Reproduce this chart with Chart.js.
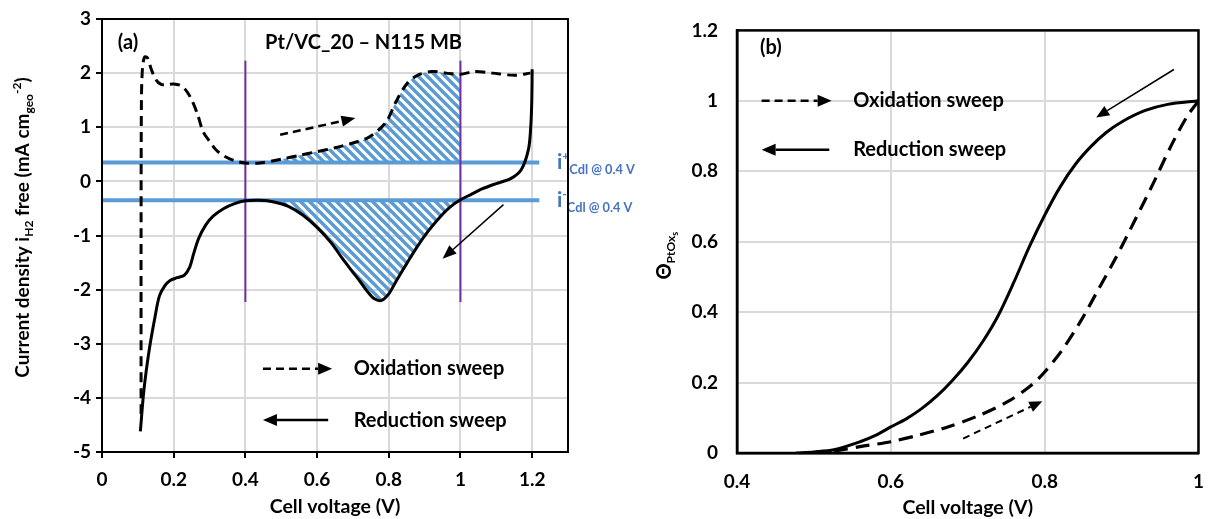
<!DOCTYPE html>
<html><head><meta charset="utf-8">
<script src="https://cdn.jsdelivr.net/npm/chart.js@4.4.0/dist/chart.umd.min.js"></script>
<style>
html,body{margin:0;padding:0;background:#fff;}
#wrap{position:relative;width:1221px;height:519px;overflow:hidden;background:#fff;}
#c1{position:absolute;left:0;top:0;}
#c2{position:absolute;left:648px;top:0;}
</style></head><body>
<div id="wrap"><canvas id="c1" width="648" height="519"></canvas><canvas id="c2" width="573" height="519"></canvas></div>
<script>
// ---------- Panel (a) data ----------
const oxVoltageA = [0.109,0.109,0.110,0.113,0.119,0.127,0.137,0.150,0.165,0.180,0.200,0.220,0.237,0.252,0.266,0.282,0.300,0.320,0.343,0.370,0.400,0.440,0.500,0.550,0.600,0.650,0.700,0.740,0.770,0.795,0.820,0.850,0.880,0.920,0.960,1.000,1.040,1.090,1.150,1.195];
const oxCurrentA = [-4.30,-1.00,1.50,2.10,2.30,2.28,2.08,1.88,1.79,1.79,1.80,1.77,1.66,1.48,1.25,0.92,0.74,0.57,0.46,0.38,0.34,0.34,0.41,0.48,0.55,0.62,0.71,0.80,0.94,1.12,1.47,1.80,1.96,2.03,2.00,1.98,2.03,2.00,1.96,2.00];
const redVoltageA = [1.200,1.199,1.196,1.190,1.170,1.140,1.100,1.060,1.030,1.000,0.970,0.940,0.910,0.880,0.850,0.820,0.800,0.780,0.760,0.740,0.720,0.700,0.670,0.640,0.600,0.560,0.520,0.480,0.440,0.400,0.370,0.340,0.310,0.290,0.270,0.255,0.245,0.230,0.210,0.190,0.175,0.160,0.148,0.132,0.117,0.107];
const redCurrentA = [2.07,1.50,1.00,0.60,0.22,0.05,-0.04,-0.14,-0.24,-0.34,-0.48,-0.68,-0.92,-1.20,-1.52,-1.85,-2.08,-2.20,-2.17,-2.03,-1.85,-1.68,-1.42,-1.14,-0.85,-0.62,-0.46,-0.38,-0.35,-0.36,-0.41,-0.50,-0.64,-0.80,-1.05,-1.35,-1.58,-1.73,-1.78,-1.83,-1.93,-2.12,-2.50,-3.10,-3.85,-4.62];
const cdlCurrentsA = [0.35, -0.35];        // i+Cdl and i-Cdl @ 0.4 V
const cdlSpanA = [0, 1.22];
const integrationLimitsA = [0.4, 1.0];
const integrationMarkerSpanA = [-2.23, 2.23];
const xTicksA = [0, 0.2, 0.4, 0.6, 0.8, 1, 1.2];
const yTicksA = [3, 2, 1, 0, -1, -2, -3, -4, -5];

// ---------- Panel (b) data ----------
const redVoltageB = [1.000,0.960,0.930,0.900,0.880,0.860,0.840,0.820,0.800,0.780,0.760,0.740,0.720,0.700,0.680,0.660,0.640,0.620,0.600,0.580,0.560,0.526,0.500,0.477];
const redCoverageB = [1.000,0.990,0.972,0.940,0.910,0.870,0.820,0.755,0.675,0.585,0.485,0.392,0.318,0.257,0.206,0.162,0.126,0.097,0.074,0.050,0.032,0.009,0.003,0.000];
const oxVoltageB = [0.526,0.560,0.600,0.635,0.674,0.714,0.753,0.783,0.800,0.822,0.847,0.870,0.892,0.916,0.941,0.965,0.985,1.000];
const oxCoverageB = [0.005,0.018,0.032,0.050,0.074,0.106,0.147,0.193,0.230,0.290,0.375,0.465,0.552,0.655,0.765,0.875,0.955,1.000];
const xTicksB = [0.4, 0.6, 0.8, 1];
const yTicksB = [0, 0.2, 0.4, 0.6, 0.8, 1, 1.2];

// ---------- annotations (data units) ----------
const arrowsA = [
  {from:[0.497,0.86], to:[0.707,1.17], dashed:true},
  {from:[1.12,-0.43], to:[0.95,-1.43], dashed:false},
  {from:[0.449,-3.46], to:[0.642,-3.46], dashed:true, legend:true},
  {from:[0.631,-4.41], to:[0.449,-4.41], dashed:false, legend:true}
];
const textsA = [
  {x:0.044, y:2.56, text:'(a)'},
  {x:0.455, y:2.56, text:'Pt/VC_20 – N115 MB'},
  {x:0.702, y:-3.46, text:'Oxidation sweep', legend:true},
  {x:0.702, y:-4.41, text:'Reduction sweep', legend:true}
];
const arrowsB = [
  {from:[0.694,0.041], to:[0.797,0.147], dashed:true},
  {from:[0.968,1.089], to:[0.867,0.953], dashed:false},
  {from:[0.432,1.0], to:[0.523,1.0], dashed:true, legend:true},
  {from:[0.520,0.861], to:[0.432,0.861], dashed:false, legend:true}
];
const textsB = [
  {x:0.43, y:1.152, text:'(b)'},
  {x:0.551, y:1.0, text:'Oxidation sweep', legend:true},
  {x:0.551, y:0.861, text:'Reduction sweep', legend:true}
];

const FONT = 'Lato';
Chart.defaults.font.family = FONT;
Chart.defaults.font.weight = 'bold';
Chart.defaults.color = '#000';

const pts = (xs, ys) => xs.map((x, i) => ({x, y: ys[i]}));
const within = (p, lim) => p.x >= lim[0] - 1e-9 && p.x <= lim[1] + 1e-9;

function hatchPattern() {
  const s = 9, c = document.createElement('canvas');
  c.width = s; c.height = s;
  const g = c.getContext('2d');
  g.strokeStyle = '#5B9BD5'; g.lineWidth = 3.4; g.lineCap = 'square';
  for (let k = -1; k <= 1; k++) { g.beginPath(); g.moveTo(k*s - 1, -1); g.lineTo(k*s + s + 1, s + 1); g.stroke(); }
  return g.createPattern(c, 'repeat');
}

function drawArrow(ctx, x1, y1, x2, y2, o) {
  const a = Math.atan2(y2 - y1, x2 - x1);
  const bx = x2 - o.head*Math.cos(a), by = y2 - o.head*Math.sin(a);
  ctx.save();
  ctx.strokeStyle = '#000'; ctx.fillStyle = '#000'; ctx.lineWidth = o.width;
  ctx.setLineDash(o.dash || []);
  ctx.beginPath(); ctx.moveTo(x1, y1); ctx.lineTo(bx, by); ctx.stroke();
  ctx.setLineDash([]);
  const hw = o.headW/2;
  ctx.beginPath(); ctx.moveTo(x2, y2);
  ctx.lineTo(bx + hw*Math.sin(a), by - hw*Math.cos(a));
  ctx.lineTo(bx - hw*Math.sin(a), by + hw*Math.cos(a));
  ctx.closePath(); ctx.fill();
  ctx.restore();
}

function richText(ctx, x, y, parts, rot, align) {
  ctx.save(); ctx.translate(x, y); ctx.rotate(rot || 0);
  let total = 0;
  parts.forEach(p => { ctx.font = `bold ${p.size}px ${FONT}`; p.w = ctx.measureText(p.t).width; total += p.w; });
  let cx = align === 'left' ? 0 : -total/2;
  ctx.textAlign = 'left'; ctx.textBaseline = 'alphabetic';
  parts.forEach(p => { ctx.font = `bold ${p.size}px ${FONT}`; ctx.fillStyle = p.color || '#000'; ctx.fillText(p.t, cx, p.dy || 0); cx += p.w; });
  ctx.restore();
}

function boxPlugin(width) {
  return {
    id: 'box',
    afterDraw(chart) {
      const {ctx, chartArea: a} = chart;
      ctx.save(); ctx.strokeStyle = '#000'; ctx.lineWidth = width;
      ctx.strokeRect(a.left, a.top, a.right - a.left, a.bottom - a.top);
      ctx.restore();
    }
  };
}

function annotationPlugin(arrows, texts, cfg) {
  return {
    id: 'annot',
    afterDatasetsDraw(chart) {
      const {ctx} = chart, xs = chart.scales.x, ys = chart.scales.y;
      arrows.forEach(ar => {
        const x1 = xs.getPixelForValue(ar.from[0]), y1 = ys.getPixelForValue(ar.from[1]);
        const x2 = xs.getPixelForValue(ar.to[0]), y2 = ys.getPixelForValue(ar.to[1]);
        const st = ar.legend ? cfg.legendArrow : cfg.arrow;
        drawArrow(ctx, x1, y1, x2, y2, {width: ar.dashed ? st.dashW : st.solidW, dash: ar.dashed ? st.dash : null, head: st.head, headW: st.headW});
      });
      ctx.save();
      ctx.fillStyle = '#000'; ctx.textAlign = 'left'; ctx.textBaseline = 'middle';
      texts.forEach(t => {
        ctx.font = `bold ${t.legend ? cfg.legendFont : cfg.labelFont}px ${FONT}`;
        ctx.fillText(t.text, xs.getPixelForValue(t.x), ys.getPixelForValue(t.y));
      });
      ctx.restore();
      if (cfg.extra) cfg.extra(chart);
    }
  };
}

const tickFont = 19, titleFont = 19.5;

// ---------- Chart (a) ----------
const hatch = hatchPattern();
const oxPtsA = pts(oxVoltageA, oxCurrentA), redPtsA = pts(redVoltageA, redCurrentA);
const lineDs = (data, color, width, extra) => Object.assign({data, borderColor: color, borderWidth: width, pointRadius: 0, fill: false, tension: 0}, extra || {});

new Chart(document.getElementById('c1'), {
  type: 'line',
  data: {datasets: [
    lineDs(redPtsA, '#000', 3, {tension: 0.3, label: 'Reduction sweep'}),
    lineDs(oxPtsA, '#000', 3, {tension: 0.3, borderDash: [10, 6], label: 'Oxidation sweep'}),
    lineDs(integrationMarkerSpanA.map(y => ({x: integrationLimitsA[0], y})), '#7030A0', 2),
    lineDs(integrationMarkerSpanA.map(y => ({x: integrationLimitsA[1], y})), '#7030A0', 2),
    lineDs(cdlSpanA.map(x => ({x, y: cdlCurrentsA[0]})), '#5B9BD5', 4),
    lineDs(cdlSpanA.map(x => ({x, y: cdlCurrentsA[1]})), '#5B9BD5', 4),
    lineDs(oxPtsA.filter(p => within(p, integrationLimitsA)), 'rgba(0,0,0,0)', 0, {tension: 0.3, fill: {value: cdlCurrentsA[0]}, backgroundColor: hatch}),
    lineDs(redPtsA.filter(p => within(p, integrationLimitsA)), 'rgba(0,0,0,0)', 0, {tension: 0.3, fill: {value: cdlCurrentsA[1]}, backgroundColor: hatch})
  ]},
  options: {
    responsive: false, animation: false, devicePixelRatio: 1,
    layout: {padding: {top: 19, right: 80, bottom: 0, left: 0}},
    plugins: {legend: {display: false}, tooltip: {enabled: false}},
    scales: {
      x: {type: 'linear', min: 0, max: 1.3,
        afterBuildTicks: s => { s.ticks = xTicksA.map(v => ({value: v})); },
        afterFit: s => { s.height = 67; },
        grid: {color: '#d9d9d9', lineWidth: 2, tickColor: '#000', tickLength: 6, tickWidth: 2},
        border: {color: '#000', width: 2},
        ticks: {font: {size: tickFont}, padding: 10, callback: v => String(v), maxRotation: 0, autoSkip: false},
        title: {display: true, text: 'Cell voltage (V)', font: {size: titleFont}, padding: {top: 0, bottom: 1}}
      },
      y: {type: 'linear', min: -5, max: 3,
        afterBuildTicks: s => { s.ticks = yTicksA.map(v => ({value: v})); },
        afterFit: s => { s.width = 102; },
        grid: {color: '#d9d9d9', lineWidth: 2, tickColor: '#000', tickLength: 6, tickWidth: 2},
        border: {color: '#000', width: 2},
        ticks: {font: {size: tickFont}, padding: 5, callback: v => String(v), autoSkip: false}
      }
    }
  },
  plugins: [boxPlugin(2), annotationPlugin(arrowsA, textsA, {
    arrow: {dashW: 2.5, solidW: 1.5, dash: [8, 5], head: 14, headW: 11},
    legendArrow: {dashW: 2.5, solidW: 2.5, dash: [8, 5], head: 14, headW: 12},
    labelFont: 20, legendFont: 20,
    extra(chart) {
      const {ctx} = chart, ys = chart.scales.y;
      richText(ctx, 22 + 7, (chart.chartArea.top + chart.chartArea.bottom)/2 - 8, [
        {t: 'Current density i', size: 19},
        {t: 'H2', size: 12, dy: 4},
        {t: ' free (mA cm', size: 19},
        {t: 'geo', size: 12, dy: 4},
        {t: '-2', size: 12, dy: -8},
        {t: ')', size: 19}
      ], -Math.PI/2, 'center');
      const lx = chart.chartArea.right - 11;
      const blue = '#4472C4';
      [['+', cdlCurrentsA[0]], ['-', cdlCurrentsA[1]]].forEach(([sg, val]) => {
        const py = ys.getPixelForValue(val);
        richText(ctx, lx, py + 7, [
          {t: 'i', size: 21, color: blue},
          {t: sg, size: 12, dy: -9, color: blue},
          {t: 'Cdl @ 0.4 V', size: 12.8, dy: 5, color: blue}
        ], 0, 'left');
      });
    }
  })]
});

// ---------- Chart (b) ----------
new Chart(document.getElementById('c2'), {
  type: 'line',
  data: {datasets: [
    lineDs(pts(redVoltageB, redCoverageB), '#000', 3, {tension: 0.3, label: 'Reduction sweep'}),
    lineDs(pts(oxVoltageB, oxCoverageB), '#000', 3.2, {tension: 0.3, borderDash: [14, 8], label: 'Oxidation sweep'})
  ]},
  options: {
    responsive: false, animation: false, devicePixelRatio: 1,
    layout: {padding: {top: 17, right: 10, bottom: 0, left: 0}},
    plugins: {legend: {display: false}, tooltip: {enabled: false}},
    scales: {
      x: {type: 'linear', min: 0.4, max: 1,
        afterBuildTicks: s => { s.ticks = xTicksB.map(v => ({value: v})); },
        afterFit: s => { s.height = 66; },
        grid: {color: '#d9d9d9', lineWidth: 2, drawTicks: false},
        border: {color: '#000', width: 2.5},
        ticks: {font: {size: tickFont}, padding: 17, callback: v => String(v), maxRotation: 0, autoSkip: false},
        title: {display: true, text: 'Cell voltage (V)', font: {size: titleFont}, padding: {top: 0, bottom: 0}}
      },
      y: {type: 'linear', min: 0, max: 1.2,
        afterBuildTicks: s => { s.ticks = yTicksB.map(v => ({value: v})); },
        afterFit: s => { s.width = 89; },
        grid: {color: '#d9d9d9', lineWidth: 2, drawTicks: false},
        border: {color: '#000', width: 2.5},
        ticks: {font: {size: tickFont}, padding: 19, callback: v => String(v), autoSkip: false}
      }
    }
  },
  plugins: [boxPlugin(2.5), annotationPlugin(arrowsB, textsB, {
    arrow: {dashW: 2, solidW: 1.5, dash: [7, 5], head: 13, headW: 11},
    legendArrow: {dashW: 2.5, solidW: 2.5, dash: [8, 5], head: 14, headW: 12},
    labelFont: 20, legendFont: 20,
    extra(chart) {
      const {ctx} = chart;
      richText(ctx, 16 + 7, (chart.chartArea.top + chart.chartArea.bottom)/2 + 14, [
        {t: 'Θ', size: 20},
        {t: 'PtOx', size: 12, dy: 4},
        {t: 's', size: 9, dy: 7}
      ], -Math.PI/2, 'center');
    }
  })]
});
</script>
</body></html>
